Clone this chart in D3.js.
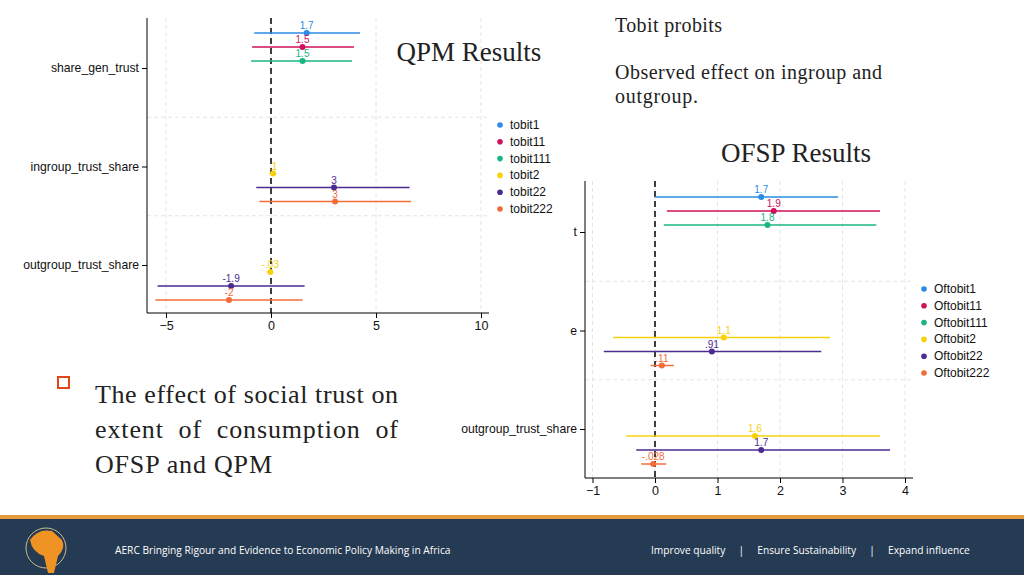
<!DOCTYPE html>
<html><head><meta charset="utf-8">
<script src="https://cdn.jsdelivr.net/npm/d3@7"></script>
<style>body{margin:0;background:#fff}svg{display:block}</style>
</head><body>
<script>
// Chart data
var categories = ["share_gen_trust", "ingroup_trust_share", "outgroup_trust_share"];
var colors = ["#2b8be6", "#cf1259", "#1bb585", "#f6d10c", "#4b2a92", "#f26c3a"];

var qpmSeries = ["tobit1", "tobit11", "tobit111", "tobit2", "tobit22", "tobit222"];
// [category index, slot, estimate, ci low, ci high, label]
var qpmPoints = [
  [0, 0, 1.7, -0.8, 4.24, "1.7"],
  [0, 1, 1.5, -0.9, 3.95, "1.5"],
  [0, 2, 1.5, -0.95, 3.86, "1.5"],
  [1, 3, 0.1, -0.08, 0.25, ".1"],
  [1, 4, 3.0, -0.7, 6.6, "3"],
  [1, 5, 3.05, -0.55, 6.67, "3"],
  [2, 3, -0.03, -0.2, 0.1, "-.03"],
  [2, 4, -1.9, -5.4, 1.6, "-1.9"],
  [2, 5, -2.0, -5.5, 1.5, "-2"]
];
var qpmTicks = [-5, 0, 5, 10];

var ofspSeries = ["Oftobit1", "Oftobit11", "Oftobit111", "Oftobit2", "Oftobit22", "Oftobit222"];
var ofspPoints = [
  [0, 0, 1.7, 0.0, 2.93, "1.7"],
  [0, 1, 1.9, 0.19, 3.6, "1.9"],
  [0, 2, 1.8, 0.14, 3.54, "1.8"],
  [1, 3, 1.1, -0.67, 2.8, "1.1"],
  [1, 4, 0.91, -0.82, 2.66, ".91"],
  [1, 5, 0.11, -0.07, 0.3, ".11"],
  [2, 3, 1.6, -0.46, 3.6, "1.6"],
  [2, 4, 1.7, -0.3, 3.76, "1.7"],
  [2, 5, -0.028, -0.22, 0.18, "-.028"]
];
var ofspTicks = [-1, 0, 1, 2, 3, 4];

var svg = d3.select("body").append("svg").attr("width", 1024).attr("height", 575)
  .style("font-family", "Liberation Sans, Arial, sans-serif");

function drawChart(opt) {
  var g = svg.append("g");
  var x = d3.scaleLinear().domain(opt.xDomain).range(opt.xRange);
  var y = d3.scaleLinear().domain([0, 2]).range([opt.y0, opt.y0 + 197]);
  var slot = d3.scaleLinear().domain([0, 5]).range([-35, 35]);

  // grid
  g.selectAll(".vg").data(opt.ticks).join("line")
    .attr("x1", d => x(d)).attr("x2", d => x(d)).attr("y1", opt.top).attr("y2", opt.bottom)
    .attr("stroke", "#e4e4e4").attr("stroke-dasharray", "4,3");
  g.selectAll(".hg").data([0.5, 1.5]).join("line")
    .attr("x1", opt.left).attr("x2", opt.right).attr("y1", d => y(d)).attr("y2", d => y(d))
    .attr("stroke", "#e4e4e4").attr("stroke-dasharray", "4,3");

  // axes
  g.append("g").attr("transform", `translate(0,${opt.bottom})`)
    .call(d3.axisBottom(x).tickValues(opt.ticks).tickFormat(d3.format("d")).tickSize(5).tickSizeOuter(0))
    .call(a => a.select(".domain").attr("d", `M${opt.left},0H${opt.right}`))
    .selectAll("text").attr("font-size", 12.5).attr("fill", "#111");
  g.append("g").attr("transform", `translate(${opt.left},0)`)
    .call(d3.axisLeft(y).tickValues([0, 1, 2]).tickFormat(opt.catFormat).tickSize(5).tickSizeOuter(0))
    .call(a => a.select(".domain").attr("d", `M0,${opt.top}V${opt.bottom}`))
    .selectAll("text").attr("font-size", 12.2).attr("fill", "#111");

  // zero line
  g.append("line").attr("x1", x(0)).attr("x2", x(0)).attr("y1", opt.top).attr("y2", opt.bottom)
    .attr("stroke", "#000").attr("stroke-width", 1.5).attr("stroke-dasharray", "6,4");

  var pts = g.selectAll(".pt").data(opt.points).join("g");
  pts.append("line")
    .attr("x1", d => x(d[3])).attr("x2", d => x(d[4]))
    .attr("y1", d => y(d[0]) + slot(d[1])).attr("y2", d => y(d[0]) + slot(d[1]))
    .attr("stroke", d => colors[d[1]]).attr("stroke-width", 1.5);
  pts.append("circle").attr("cx", d => x(d[2])).attr("cy", d => y(d[0]) + slot(d[1]))
    .attr("r", 3).attr("fill", d => colors[d[1]]);
  pts.append("text").attr("x", d => x(d[2])).attr("y", d => y(d[0]) + slot(d[1]) - 4)
    .attr("text-anchor", "middle").attr("font-size", 10).attr("fill", d => colors[d[1]])
    .text(d => d[5]);

  var lg = g.selectAll(".lg").data(opt.series).join("g")
    .attr("transform", (d, i) => `translate(${opt.legendX},${opt.legendY + i * 16.8})`);
  lg.append("circle").attr("r", 2.8).attr("fill", (d, i) => colors[i]);
  lg.append("text").attr("x", 10).attr("y", 4).attr("font-size", 12).attr("fill", "#111").text(d => d);
}

// OFSP chart: its first two labels are hidden behind the QPM picture, only last letter shows
drawChart({xDomain: [0, 4], xRange: [655, 905], ticks: ofspTicks, left: 585, right: 913, top: 181,
  bottom: 478, y0: 232, points: ofspPoints, series: ofspSeries, legendX: 924, legendY: 289,
  catFormat: i => i < 2 ? categories[i].slice(-1) : categories[i]});
drawChart({xDomain: [0, 5], xRange: [271, 376], ticks: qpmTicks, left: 147, right: 489, top: 18,
  bottom: 313, y0: 68, points: qpmPoints, series: qpmSeries, legendX: 500, legendY: 125,
  catFormat: i => categories[i]});

// text blocks
var serif = "Liberation Serif, DejaVu Serif, serif";
svg.append("text").attr("x", 469).attr("y", 61).attr("text-anchor", "middle").attr("font-family", serif)
  .attr("font-size", 27).attr("fill", "#222").text("QPM Results");
svg.append("text").attr("x", 796).attr("y", 162).attr("text-anchor", "middle").attr("font-family", serif)
  .attr("font-size", 27).attr("fill", "#222").text("OFSP Results");
[["Tobit probits", 32, 107], ["Observed effect on ingroup and", 79, 267], ["outgroup.", 103, 83]].forEach(function(t) {
  svg.append("text").attr("x", 615).attr("y", t[1]).attr("font-family", serif).attr("font-size", 20)
    .attr("fill", "#222").attr("textLength", t[2]).attr("lengthAdjust", "spacing").text(t[0]);
});
svg.append("rect").attr("x", 58).attr("y", 377).attr("width", 11).attr("height", 11)
  .attr("fill", "none").attr("stroke", "#e2461b").attr("stroke-width", 2);
[["The effect of social trust on", 403, 303], ["extent  of  consumption  of", 438, 303], ["OFSP and QPM", 473, 177]].forEach(function(t) {
  svg.append("text").attr("x", 95).attr("y", t[1]).attr("font-family", serif).attr("font-size", 26)
    .attr("fill", "#222").attr("xml:space", "preserve")
    .attr("textLength", t[2]).attr("lengthAdjust", "spacing").text(t[0]);
});

// footer
svg.append("rect").attr("x", 0).attr("y", 515).attr("width", 1024).attr("height", 60).attr("fill", "#253a53");
svg.append("rect").attr("x", 0).attr("y", 515).attr("width", 1024).attr("height", 4).attr("fill", "#e39b3d");
svg.append("circle").attr("cx", 46).attr("cy", 548).attr("r", 20).attr("fill", "none").attr("stroke", "#c9b98e").attr("stroke-width", 1);
svg.append("path").attr("d", "M30,540 Q38,528 52,531 L62,540 Q66,548 58,556 L54,573 L48,573 L44,556 Q32,552 30,540Z").attr("fill", "#ef9424");
svg.append("text").attr("x", 115).attr("y", 554).attr("font-family", "Open Sans, sans-serif").attr("font-size", 10.2)
  .attr("fill", "#fff").text("AERC Bringing Rigour and Evidence to Economic Policy Making in Africa");
svg.append("text").attr("x", 651).attr("y", 554).attr("font-family", "Open Sans, sans-serif").attr("font-size", 10.2)
  .attr("fill", "#fff").attr("xml:space", "preserve")
  .text("Improve quality     |     Ensure Sustainability     |     Expand influence");
</script>
</body></html>
